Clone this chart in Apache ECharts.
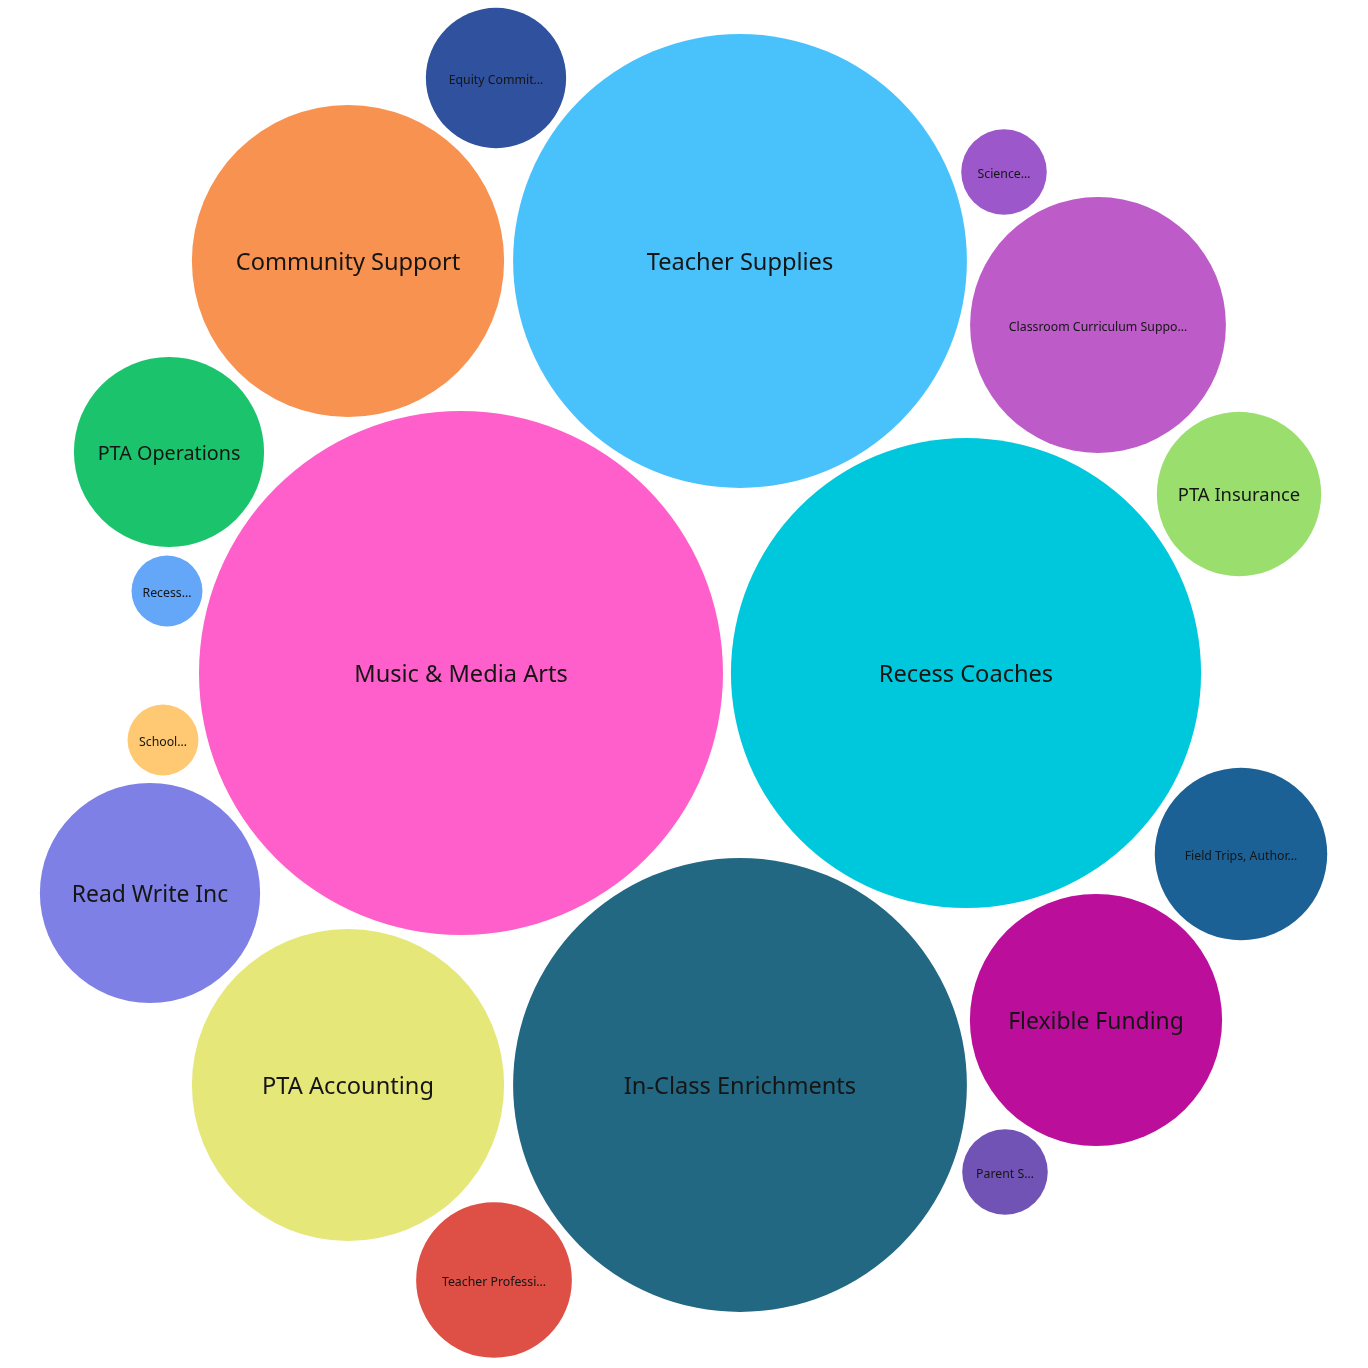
<!DOCTYPE html>
<html>
<head>
<meta charset="utf-8">
<script src="https://cdn.jsdelivr.net/npm/echarts@6/dist/echarts.min.js"></script>
<style>html,body{margin:0;padding:0;background:#fff}#chart{width:1368px;height:1368px}</style>
</head>
<body>
<div id="chart"></div>
<script>
// Category labels (as shown, truncated where the original truncates)
const names = [
  'Music & Media Arts', 'Recess Coaches', 'Teacher Supplies', 'In-Class Enrichments',
  'Community Support', 'PTA Accounting', 'Classroom Curriculum Suppo…', 'Flexible Funding',
  'Read Write Inc', 'PTA Operations', 'Field Trips, Author…', 'PTA Insurance',
  'Teacher Professi…', 'Equity Commit…', 'Science…', 'Parent S…', 'Recess…', 'School…'
];
// Bubble values (area ∝ value)
const values = [30000, 24150, 22500, 22500, 10650, 10650, 7150, 6950, 5300, 3950, 3250, 2950, 2650, 2150, 800, 800, 550, 550];
// Packed layout position of each bubble (layout units)
const xs = [461, 966, 740, 740, 348, 348, 1098, 1096, 150, 169, 1241, 1239, 494, 496, 1004, 1005, 167, 163];
const ys = [673, 673, 261, 1085, 261, 1085, 325, 1020, 893, 452, 854, 494, 1280, 78, 172, 1172, 591, 740];
const colors = ['#FF5FCB', '#00C8DC', '#49C2FC', '#226882', '#F79250', '#E5E779', '#BD5BC8', '#BB0F9B',
  '#7E80E6', '#1BC46C', '#1C6196', '#9ADF6E', '#DE4F45', '#30519D', '#9C58CA', '#7153B5', '#64A6F8', '#FFC973'];

const K = 262 / Math.sqrt(30000); // layout units per sqrt(value)
const data = names.map((n, i) => ({ name: n, value: [xs[i], ys[i], K * Math.sqrt(values[i]), values[i]] }));

const chart = echarts.init(document.getElementById('chart'));
chart.setOption({
  animation: false,
  grid: { left: 0, right: 0, top: 0, bottom: 0 },
  xAxis: { type: 'value', min: 0, max: 1368, show: false },
  yAxis: { type: 'value', min: 0, max: 1368, inverse: true, show: false },
  series: [{
    type: 'custom',
    data: data,
    renderItem: function (params, api) {
      const i = params.dataIndex;
      const c = api.coord([api.value(0), api.value(1)]);
      const r = api.size([api.value(2), 0])[0];
      const label = names[i];
      let fs;
      if (label.endsWith('…')) {
        fs = 12.3;
      } else {
        fs = (2 * r * 0.8) / (label.length * 0.55);
        fs = Math.max(11, Math.min(23.6, fs));
      }
      return {
        type: 'group',
        children: [
          { type: 'circle', shape: { cx: c[0], cy: c[1], r: r }, style: { fill: colors[i] } },
          { type: 'text', x: c[0], y: c[1] + 2, style: { text: label, fill: '#151515', fontSize: fs,
            fontFamily: 'Noto Sans', align: 'center', verticalAlign: 'middle' } }
        ]
      };
    }
  }]
});
</script>
</body>
</html>
